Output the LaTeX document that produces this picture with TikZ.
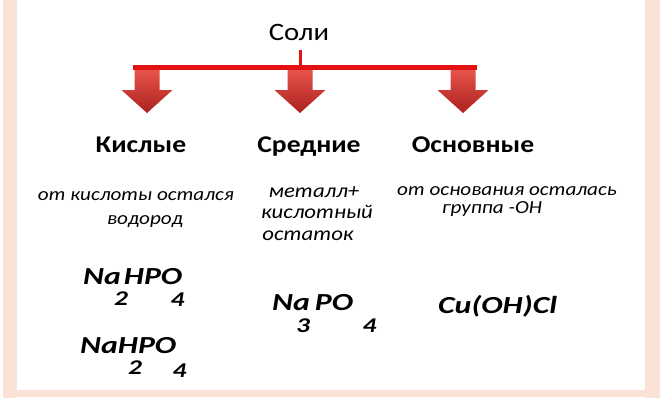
\documentclass[tikz,border=0pt]{standalone}
\usepackage{fontspec}
\setmainfont{Carlito}[FakeStretch=1.15]
\newfontfamily\formfont{Carlito}[FakeStretch=1.3]
\definecolor{peach}{RGB}{251,226,214}
\definecolor{barred}{RGB}{226,18,18}
\definecolor{arrtop}{RGB}{234,86,78}
\definecolor{arrbot}{RGB}{172,34,30}
\tikzset{
  head/.style={font=\bfseries\fontsize{24}{28}\selectfont, anchor=base, inner sep=0pt},
  note/.style={font=\itshape\fontsize{18.4}{22}\selectfont, anchor=base, inner sep=0pt},
  formula/.style={font=\formfont\bfseries\itshape\fontsize{24.5}{28}\selectfont, anchor=base west, inner sep=0pt},
  index/.style={formula, font=\formfont\bfseries\itshape\fontsize{21}{24}\selectfont},
}

\begin{document}
\begin{tikzpicture}[x=1pt,y=-1pt]
		\useasboundingbox (0,0) rectangle (664,400);
		\fill[white] (0,0) rectangle (664,400);
		\fill[peach] (3,0) rectangle (17,398); % borde izquierdo
		\fill[peach] (645,0) rectangle (660,398); % borde derecho
		\fill[peach] (3,390) rectangle (660,397); % borde inferior
		\node[head, font=\fontsize{25}{28}\selectfont] (soli) at (299,40) {Соли}; % titulo
		\coordinate (tick) at (300,50); % trazo bajo el titulo
		\coordinate (barL) at (133,67);
		\coordinate (barR) at (477,67);
		\foreach \x in {147,300,463}
		\shade[top color=arrtop, bottom color=arrbot] (\x-12.5,67) -- (\x+12.5,67) -- (\x+12.5,90) -- (\x+25.5,90) -- (\x,113) -- (\x-25.5,90) -- (\x-12.5,90) -- cycle; % flechas
		\draw[barred, line width=5pt] (barL) -- (barR); % barra
		\draw[barred, line width=3pt] (tick) -- (tick |- barL);
		\node[head] (acid) at (141,152) {Кислые};
		\node[head] (middle) at (309,152) {Средние};
		\node[head] (basic) at (473,152) {Основные};
		\node[note] (acid1) at (136,200) {от кислоты остался};
		\node[note] (acid2) at (145,224) {водород};
		\node[note, font=\itshape\fontsize{19.8}{22}\selectfont] (middle1) at (314,197) {металл+};
		\node[note, font=\itshape\fontsize{19.8}{22}\selectfont] (middle2) at (317,218) {кислотный};
		\node[note, font=\itshape\fontsize{19.8}{22}\selectfont] (middle3) at (308,240) {остаток};
		\node[note] (basic1) at (507,195) {от основания осталась};
		\node[note] (basic2) at (492,213) {группа -ОН};
		\node[formula] (acidf1) at (83,284) {Na\kern3pt HPO}; % Na2HPO4
		\node[index] (acidf1a) at ([shift={(31,21)}]acidf1.base west) {2};
		\node[index] (acidf1b) at ([shift={(-12,22)}]acidf1.base east) {4};
		\node[formula] (acidf2) at (80,353) {NaHPO}; % NaH2PO4
		\node[index] (acidf2a) at ([shift={(48,21)}]acidf2.base west) {2};
		\node[index] (acidf2b) at ([shift={(-4,24)}]acidf2.base east) {4};
		\node[formula] (middlef) at (272,310) {Na\kern5pt PO}; % Na3PO4
		\node[index] (middlefa) at ([shift={(24,22)}]middlef.base west) {3};
		\node[index] (middlefb) at ([shift={(9,22)}]middlef.base east) {4};
		\node[formula] (basicf) at (438,313) {Cu(OH)Cl};
\end{tikzpicture}
\end{document}
